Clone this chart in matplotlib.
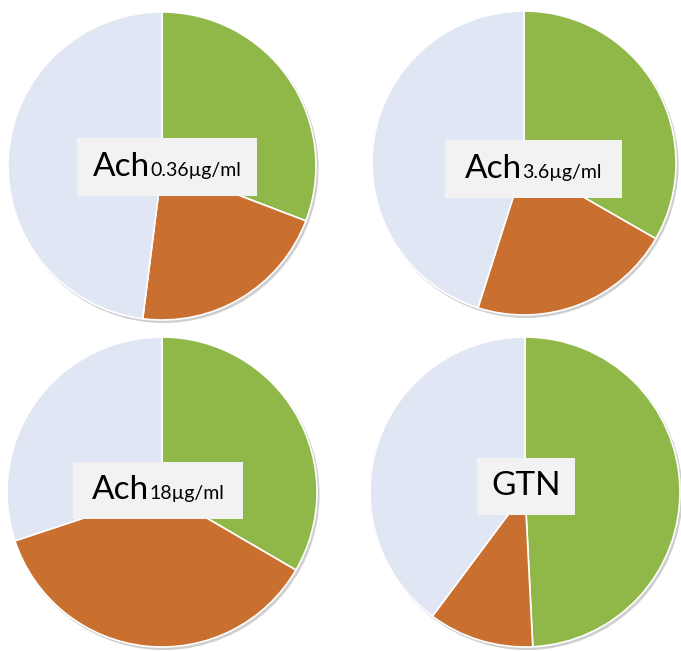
import matplotlib.pyplot as plt
from matplotlib.patches import Rectangle, Circle
from matplotlib.offsetbox import TextArea, HPacker, AnnotationBbox

plt.rcParams['font.family'] = ['Lato', 'DejaVu Sans']

# slice shares (%), clockwise from 12 o'clock: green, orange, light
ach036 = [30.8, 21.2, 48.0]
ach36 = [33.3, 21.6, 45.1]
ach18 = [33.4, 36.5, 30.1]
gtn = [49.2, 11.0, 39.8]

titles = [("Ach", "0.36\u00b5g/ml"), ("Ach", "3.6\u00b5g/ml"),
          ("Ach", "18\u00b5g/ml"), ("GTN", "")]
series = [ach036, ach36, ach18, gtn]
colors = ['#8fb848', '#c96f30', '#e0e6f3']

W, H = 681, 651
# pie centre / radius in pixels
pies = [(162, 166, 154), (524, 163, 152), (162, 492, 155), (525, 492, 155)]
# label box (x0, x1, y0, y1) in pie-radius units
boxes = [(-0.552, 0.617, -0.195, 0.182),
         (-0.52, 0.645, -0.23, 0.151),
         (-0.574, 0.523, -0.174, 0.194),
         (-0.31, 0.32, -0.148, 0.219)]

fig = plt.figure(figsize=(W / 100, H / 100), dpi=100)

for vals, (cx, cy, r), box, (big, small) in zip(series, pies, boxes, titles):
    ax = fig.add_axes([(cx - r) / W, (H - cy - r) / H, 2 * r / W, 2 * r / H])
    # faint shadow
    ax.add_patch(Circle((0.012, -0.015), 1.0, color='#cfcfcf', zorder=0,
                        clip_on=False))
    wedges, _ = ax.pie(vals, colors=colors, startangle=90, counterclock=False,
                       radius=1.0, wedgeprops=dict(edgecolor='white', linewidth=1.2))
    for w in wedges:
        w.set_clip_on(False)
    ax.set_xlim(-1, 1)
    ax.set_ylim(-1, 1)
    ax.axis('off')
    x0, x1, y0, y1 = box
    ax.add_patch(Rectangle((x0, y0), x1 - x0, y1 - y0, facecolor='#f2f2f2',
                           edgecolor='none', zorder=5))
    parts = [TextArea(big, textprops=dict(fontsize=24, color='black'))]
    if small:
        parts.append(TextArea(small, textprops=dict(fontsize=14, color='black')))
    pack = HPacker(children=parts, align='baseline', pad=0, sep=0)
    ab = AnnotationBbox(pack, ((x0 + x1) / 2, (y0 + y1) / 2), frameon=False,
                        box_alignment=(0.5, 0.5), zorder=6)
    ax.add_artist(ab)

fig.savefig('out.png', dpi=100, facecolor='white')
